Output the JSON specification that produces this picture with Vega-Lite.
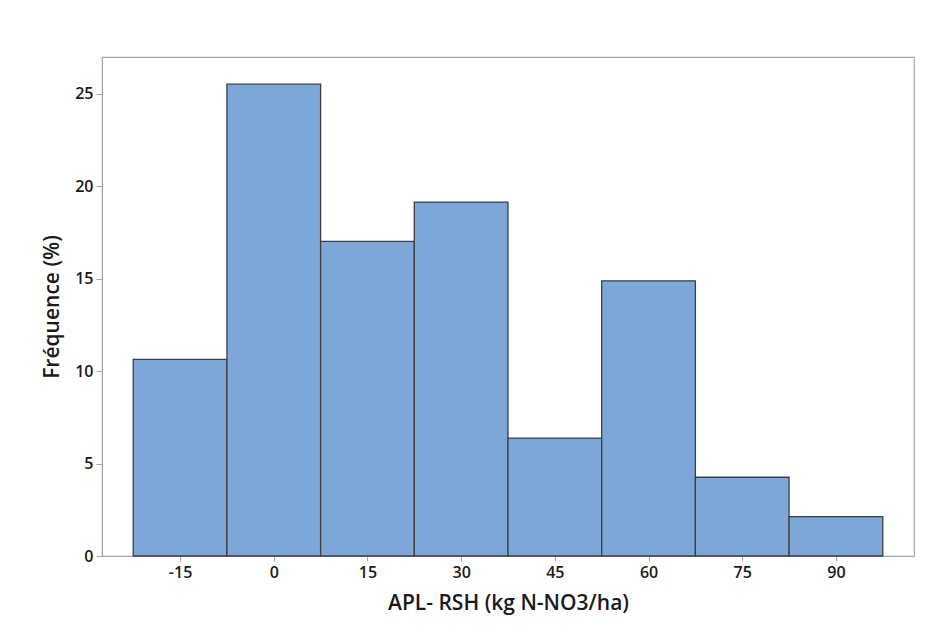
{
  "$schema": "https://vega.github.io/schema/vega-lite/v6.json",
  "autosize": {"type": "none"},
  "width": 812,
  "height": 499,
  "padding": {"left": 102, "top": 57, "right": 31, "bottom": 80},
  "background": "white",
  "config": {
    "view": {"stroke": "#a6a6a6", "strokeWidth": 1.2},
    "font": "Open Sans"
  },
  "data": {
    "values": [
      {"start": -22.5, "end": -7.5, "pct": 10.64},
      {"start": -7.5, "end": 7.5, "pct": 25.53},
      {"start": 7.5, "end": 22.5, "pct": 17.02},
      {"start": 22.5, "end": 37.5, "pct": 19.15},
      {"start": 37.5, "end": 52.5, "pct": 6.38},
      {"start": 52.5, "end": 67.5, "pct": 14.89},
      {"start": 67.5, "end": 82.5, "pct": 4.26},
      {"start": 82.5, "end": 97.5, "pct": 2.13}
    ]
  },
  "mark": {"type": "bar", "fill": "#7da7d9", "stroke": "#3f3f3f", "strokeWidth": 1.3},
  "encoding": {
    "x": {
      "field": "start", "type": "quantitative",
      "scale": {"domain": [-27.5, 102.5], "nice": false, "zero": false},
      "axis": {
        "values": [-15, 0, 15, 30, 45, 60, 75, 90],
        "labelExpr": "'' + datum.value",
        "title": "APL- RSH (kg N-NO3/ha)",
        "grid": false,
        "domainColor": "#a6a6a6",
        "tickColor": "#a6a6a6",
        "tickSize": 5,
        "labelFont": "Open Sans",
        "labelFontSize": 16,
        "labelFontWeight": 600,
        "labelColor": "#1a1a1a",
        "labelPadding": 3,
        "titleFont": "Open Sans",
        "titleFontSize": 21,
        "titleFontWeight": 600,
        "titleColor": "#1a1a1a",
        "titlePadding": 12
      }
    },
    "x2": {"field": "end"},
    "y": {
      "field": "pct", "type": "quantitative",
      "scale": {"domain": [0, 27], "nice": false},
      "axis": {
        "values": [0, 5, 10, 15, 20, 25],
        "title": "Fréquence (%)",
        "grid": false,
        "domainColor": "#a6a6a6",
        "tickColor": "#a6a6a6",
        "tickSize": 6,
        "labelFont": "Open Sans",
        "labelFontSize": 16,
        "labelFontWeight": 600,
        "labelColor": "#1a1a1a",
        "labelPadding": 3,
        "titleFont": "Open Sans",
        "titleFontSize": 21,
        "titleFontWeight": 600,
        "titleColor": "#1a1a1a",
        "titlePadding": 12
      }
    },
    "y2": {"datum": 0}
  }
}
